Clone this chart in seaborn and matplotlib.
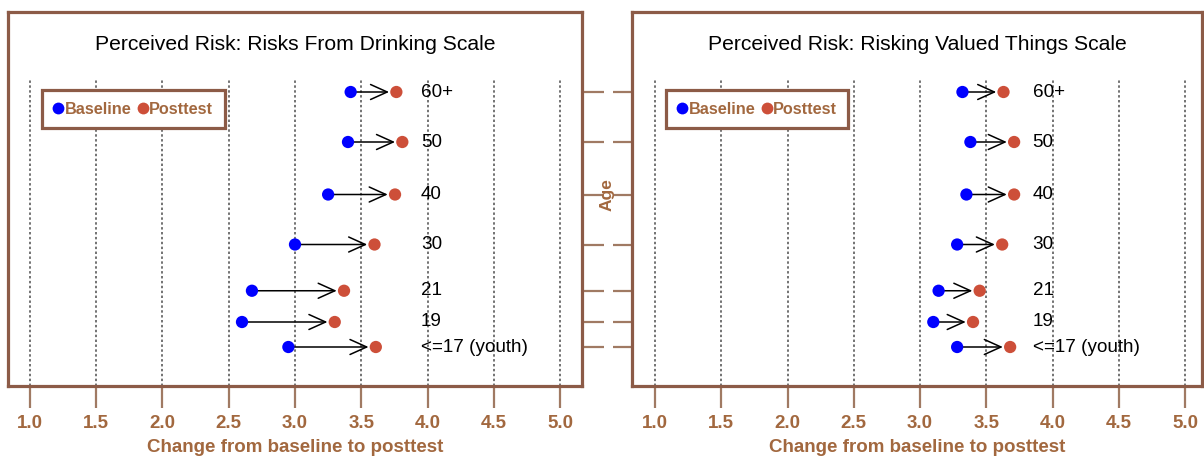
import numpy as np
import pandas as pd
import matplotlib
matplotlib.use("Agg")
import matplotlib.pyplot as plt
from matplotlib.lines import Line2D
import seaborn as sns

# Age groups (bottom to top) and their vertical positions on the chart
age_labels = ["<=17 (youth)", "19", "21", "30", "40", "50", "60+"]
age_pos = [0.0, 1.0, 2.25, 4.1, 6.1, 8.2, 10.2]

# Mean scale scores by age group
drinking_baseline = [2.95, 2.60, 2.675, 3.00, 3.25, 3.40, 3.42]
drinking_posttest = [3.61, 3.30, 3.37, 3.60, 3.755, 3.81, 3.765]
valued_baseline = [3.28, 3.10, 3.14, 3.28, 3.35, 3.38, 3.32]
valued_posttest = [3.68, 3.40, 3.45, 3.62, 3.71, 3.71, 3.63]

panel_titles = ["Perceived Risk: Risks From Drinking Scale",
                "Perceived Risk: Risking Valued Things Scale"]
x_ticks = [1.0, 1.5, 2.0, 2.5, 3.0, 3.5, 4.0, 4.5, 5.0]
x_label = "Change from baseline to posttest"
y_label = "Age"
series_names = ["Baseline", "Posttest"]

FRAME = "#8C5B47"
BROWN_TXT = "#A2683F"
TICK_C = "#A07A63"
BLUE = "#0000FF"
RED = "#CD4F39"

sns.set_theme(style="white")
plt.rcParams["font.family"] = ["Liberation Sans", "DejaVu Sans"]

W, H = 1204, 457
fig = plt.figure(figsize=(W / 100, H / 100), dpi=100)
fig.patch.set_facecolor("white")


def px_axes(x0, x1, y0, y1):
    return fig.add_axes([x0 / W, 1 - y1 / H, (x1 - x0) / W, (y1 - y0) / H])


ax_left = px_axes(8, 582, 12, 386)
ax_right = px_axes(632, 1202, 12, 386)

panels = [
    (ax_left, drinking_baseline, drinking_posttest, "right", (0.834, 5.166)),
    (ax_right, valued_baseline, valued_posttest, "left", (0.826, 5.128)),
]

ylim = (-1.56, 13.4)
grid_top = 10.72

for i, (ax, base, post, tick_side, xlim) in enumerate(panels):
    df = pd.DataFrame({
        "age": age_labels * 2,
        "pos": age_pos * 2,
        "score": list(base) + list(post),
        "time": [series_names[0]] * len(base) + [series_names[1]] * len(post),
    })

    ax.set_xlim(*xlim)
    ax.set_ylim(*ylim)

    # dotted vertical guides
    ax.vlines(x_ticks, ylim[0], grid_top, colors="#4d4d4d",
              linestyles=(0, (1.6, 1.6)), linewidth=1.1, zorder=1)

    # arrows from baseline toward posttest
    for b, p, y in zip(base, post, age_pos):
        ax.annotate("", xy=(p - 0.055, y), xytext=(b, y),
                    arrowprops=dict(arrowstyle="->,head_length=1.0,head_width=0.45",
                                    color="black", lw=1.1,
                                    shrinkA=0, shrinkB=0),
                    zorder=2)

    sns.scatterplot(data=df, x="score", y="pos", hue="time",
                    palette={series_names[0]: BLUE, series_names[1]: RED},
                    s=78, linewidth=0, legend=False, ax=ax, zorder=3)

    # age group names beside the points
    lab_x = max(post) + 0.14
    for lab, y in zip(age_labels, age_pos):
        ax.text(lab_x, y, lab, ha="left", va="center", fontsize=13.6,
                color="black", zorder=4)

    ax.text(0.5, 0.912, panel_titles[i], transform=ax.transAxes,
            ha="center", va="center", fontsize=15.2, color="black")

    # frame
    for sp in ax.spines.values():
        sp.set_visible(True)
        sp.set_color(FRAME)
        sp.set_linewidth(2.3)

    ax.set_xticks(x_ticks)
    ax.set_xticklabels([f"{t:.1f}" for t in x_ticks])
    ax.tick_params(axis="x", direction="out", length=16, width=1.6,
                   color=TICK_C, labelcolor=BROWN_TXT, labelsize=13.5, pad=5,
                   bottom=True)
    for lab in ax.get_xticklabels():
        lab.set_fontweight("bold")

    ax.set_yticks(age_pos)
    if tick_side == "right":
        ax.yaxis.tick_right()
        ax.tick_params(axis="y", direction="out", length=16, width=1.6,
                       color=TICK_C, labelright=False, right=True, left=False)
    else:
        ax.yaxis.tick_left()
        ax.tick_params(axis="y", direction="out", length=14, width=1.6,
                       color=TICK_C, labelleft=False, left=True, right=False)

    ax.set_xlabel(x_label, fontsize=13.5, fontweight="bold", color=BROWN_TXT,
                  labelpad=5)
    ax.set_ylabel("")

    handles = [Line2D([0], [0], marker="o", linestyle="", markersize=8.5,
                      markerfacecolor=c, markeredgewidth=0)
               for c in (BLUE, RED)]
    leg = ax.legend(handles, series_names, loc="upper left",
                    bbox_to_anchor=(0.059, 0.791), ncol=2, frameon=True,
                    fancybox=False, framealpha=1, edgecolor=FRAME,
                    handlelength=0.6, handletextpad=0.1, columnspacing=0.4,
                    borderpad=0.7, borderaxespad=0,
                    prop={"weight": "bold", "size": 11.7})
    leg.get_frame().set_linewidth(2.3)
    for t in leg.get_texts():
        t.set_color(BROWN_TXT)

fig.text(607 / W, 1 - 195 / H, y_label, rotation=90, ha="center", va="center",
         fontsize=12.5, fontweight="bold", color=BROWN_TXT)

fig.savefig("out.png", dpi=100, facecolor="white")
